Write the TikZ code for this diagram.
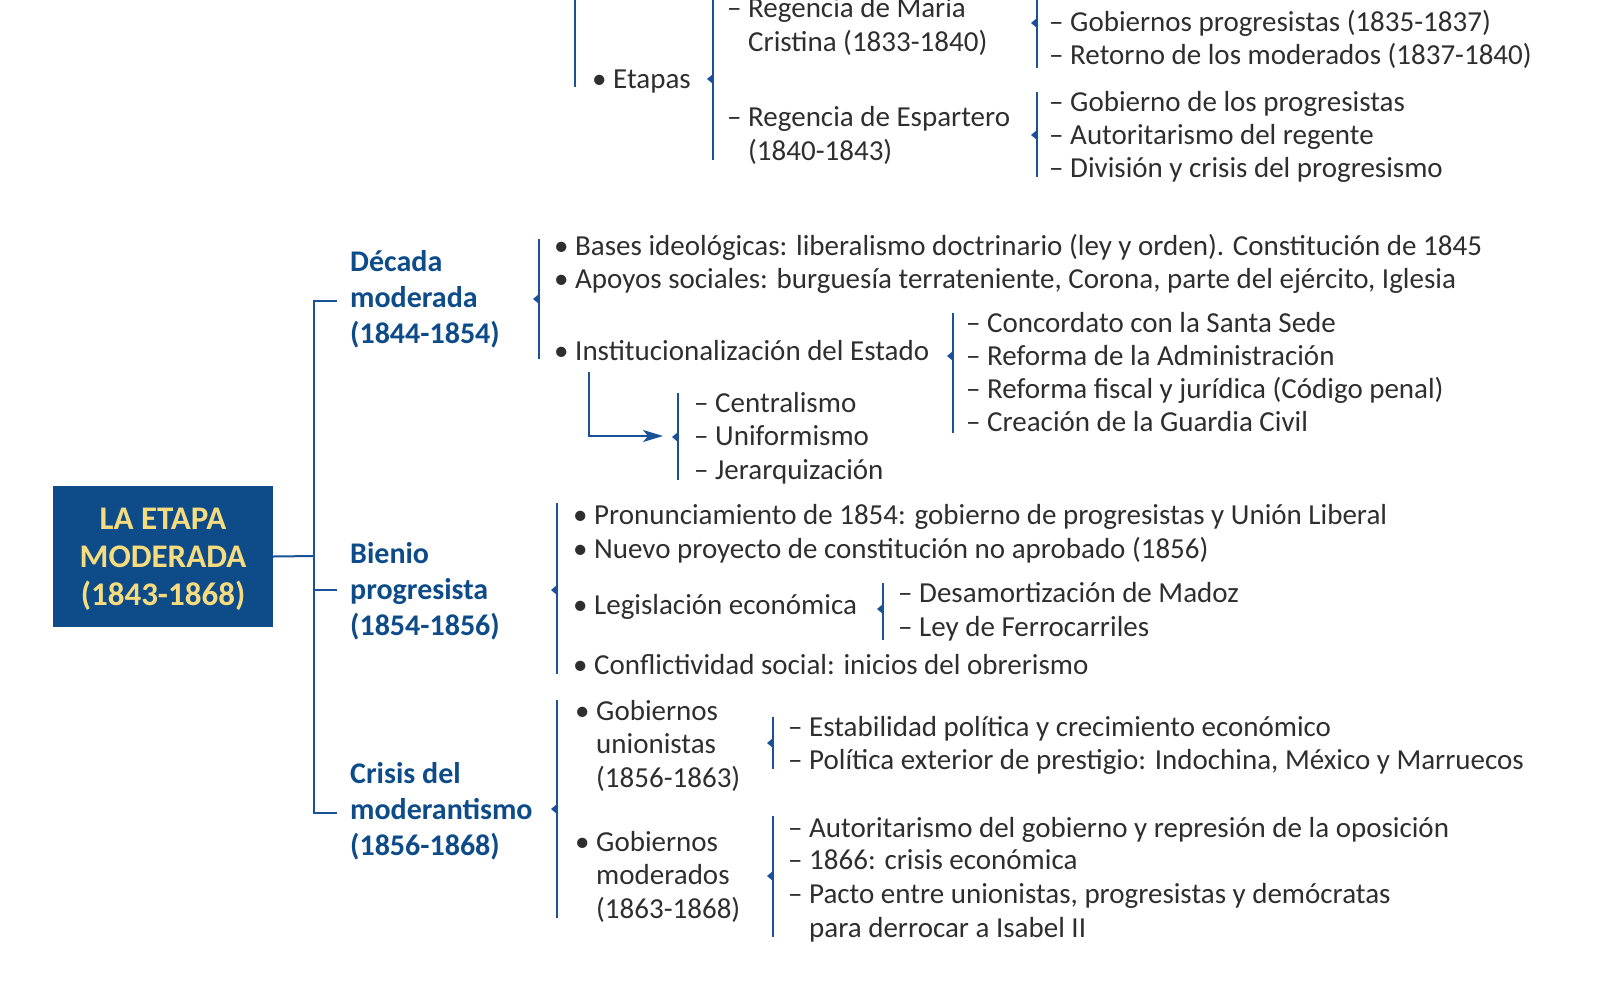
\documentclass[tikz,border=0pt]{standalone}
\usepackage{fontspec}
\setmainfont{Carlito}
\usetikzlibrary{arrows.meta}
\definecolor{mblue}{HTML}{0D4C89}
\definecolor{lblue}{HTML}{1A5298}
\definecolor{tgray}{HTML}{2E2E2E}
\definecolor{myellow}{HTML}{F6DC7E}
\newcommand\mybrk[4]{\draw[ln] (#1,#2) -- (#1,#3); \fill[lblue] (#1,#4) ++(0,-5) -- ++(-6,5) -- ++(6,5) -- cycle;}
\begin{document}
\begin{tikzpicture}[x=1pt,y=-1pt,
 txt/.style={anchor=base west, inner sep=0pt, align=left, text=tgray, font=\fontsize{29}{33.5}\selectfont},
 hdr/.style={anchor=base west, inner sep=0pt, align=left, text=mblue, font=\bfseries\fontsize{30}{36}\selectfont},
 ln/.style={draw=lblue, line width=2pt},
 rootbox/.style={fill=mblue, minimum width=220pt, minimum height=141pt, inner sep=0pt},
 rootlbl/.style={text=myellow, align=center, inner sep=0pt, font=\bfseries\fontsize{33}{38}\selectfont},
 ]
\useasboundingbox (0,0) rectangle (1600,991);

% ---------- top section ----------
\draw[ln] (575,0) -- (575,87);
\node[txt] (etapas) at (592,88) {\textbullet\ Etapas};
\mybrk{713}{0}{160}{79}
\node[txt] (regmc) at (727,51) {– Regencia de María\\\phantom{– }Cristina (1833-1840)};
\node[txt] (rege) at (727,160) {– Regencia de Espartero\\\phantom{– }(1840-1843)};
\mybrk{1037}{0}{68}{23}
\node[txt] (mc2) at (1049,31) {– Gobiernos progresistas (1835-1837)};
\node[txt] (mc3) at (1049,64) {– Retorno de los moderados (1837-1840)};
\mybrk{1037}{92}{177}{135}
\node[txt] (e1) at (1049,111) {– Gobierno de los progresistas};
\node[txt] (e2) at (1049,144) {– Autoritarismo del regente};
\node[txt] (e3) at (1049,177) {– División y crisis del progresismo};

% ---------- root and trunk ----------
\node[rootbox] (root) at (163,556.5) {};
\node[rootlbl] (rootl) at ([yshift=-3pt]root.center) {LA ETAPA\\MODERADA\\(1843-1868)};
\coordinate (j) at (314,556);
\coordinate (td) at (337,301);
\coordinate (tb) at (337,590);
\coordinate (tc) at (337,813);
\draw[ln] (root.east) -- (j);
\draw[ln] (td) -- (td -| j) -- (tc -| j) -- (tc);
\draw[ln] (tb -| j) -- (tb);

% ---------- Decada moderada ----------
\node[hdr] (dec) at (350,343) {Década\\moderada\\(1844-1854)};
\mybrk{539}{239}{359}{299}
\node[txt] (d1) at (554,255) {\textbullet\ Bases ideológicas: liberalismo doctrinario (ley y orden). Constitución de 1845};
\node[txt] (d2) at (554,288) {\textbullet\ Apoyos sociales: burguesía terrateniente, Corona, parte del ejército, Iglesia};
\node[txt] (inst) at (554,360) {\textbullet\ Institucionalización del Estado};
\mybrk{953}{313}{433}{356}
\node[txt] (i1) at (966,332) {– Concordato con la Santa Sede};
\node[txt] (i2) at (966,365) {– Reforma de la Administración};
\node[txt] (i3) at (966,398) {– Reforma fiscal y jurídica (Código penal)};
\node[txt] (i4) at (966,431) {– Creación de la Guardia Civil};
\mybrk{678}{393}{480}{437}
\node[txt] (cg) at (694,479) {– Centralismo\\– Uniformismo\\– Jerarquización};
\coordinate (astart) at (589,372);
\coordinate (aend) at (663,436);
\draw[ln, -{Stealth[length=20pt,width=12pt,inset=5pt]}] (astart) |- (aend);

% ---------- Bienio progresista ----------
\node[hdr] (bie) at (350,635) {Bienio\\progresista\\(1854-1856)};
\mybrk{557}{503}{674}{590}
\node[txt] (b1) at (573,524) {\textbullet\ Pronunciamiento de 1854: gobierno de progresistas y Unión Liberal};
\node[txt] (b2) at (573,558) {\textbullet\ Nuevo proyecto de constitución no aprobado (1856)};
\node[txt] (b3) at (573,614) {\textbullet\ Legislación económica};
\node[txt] (b4) at (573,674) {\textbullet\ Conflictividad social: inicios del obrerismo};
\mybrk{883}{583}{640}{609}
\node[txt] (l1) at (898,602) {– Desamortización de Madoz};
\node[txt] (l2) at (898,636) {– Ley de Ferrocarriles};

% ---------- Crisis del moderantismo ----------
\node[hdr] (cri) at (350,855) {Crisis del\\moderantismo\\(1856-1868)};
\mybrk{557}{700}{918}{809}
\node[txt] (gu) at (575,787) {\textbullet\ Gobiernos\\\phantom{\textbullet\ }unionistas\\\phantom{\textbullet\ }(1856-1863)};
\node[txt] (gm) at (575,918) {\textbullet\ Gobiernos\\\phantom{\textbullet\ }moderados\\\phantom{\textbullet\ }(1863-1868)};
\mybrk{773}{717}{769}{743}
\node[txt] (u1) at (788,736) {– Estabilidad política y crecimiento económico};
\node[txt] (u2) at (788,769) {– Política exterior de prestigio: Indochina, México y Marruecos};
\mybrk{773}{816}{937}{876}
\node[txt] (m1) at (788,837) {– Autoritarismo del gobierno y represión de la oposición};
\node[txt] (m2) at (788,869) {– 1866: crisis económica};
\node[txt] (m3) at (788,937) {– Pacto entre unionistas, progresistas y demócratas\\\phantom{– }para derrocar a Isabel II};
\end{tikzpicture}
\end{document}
